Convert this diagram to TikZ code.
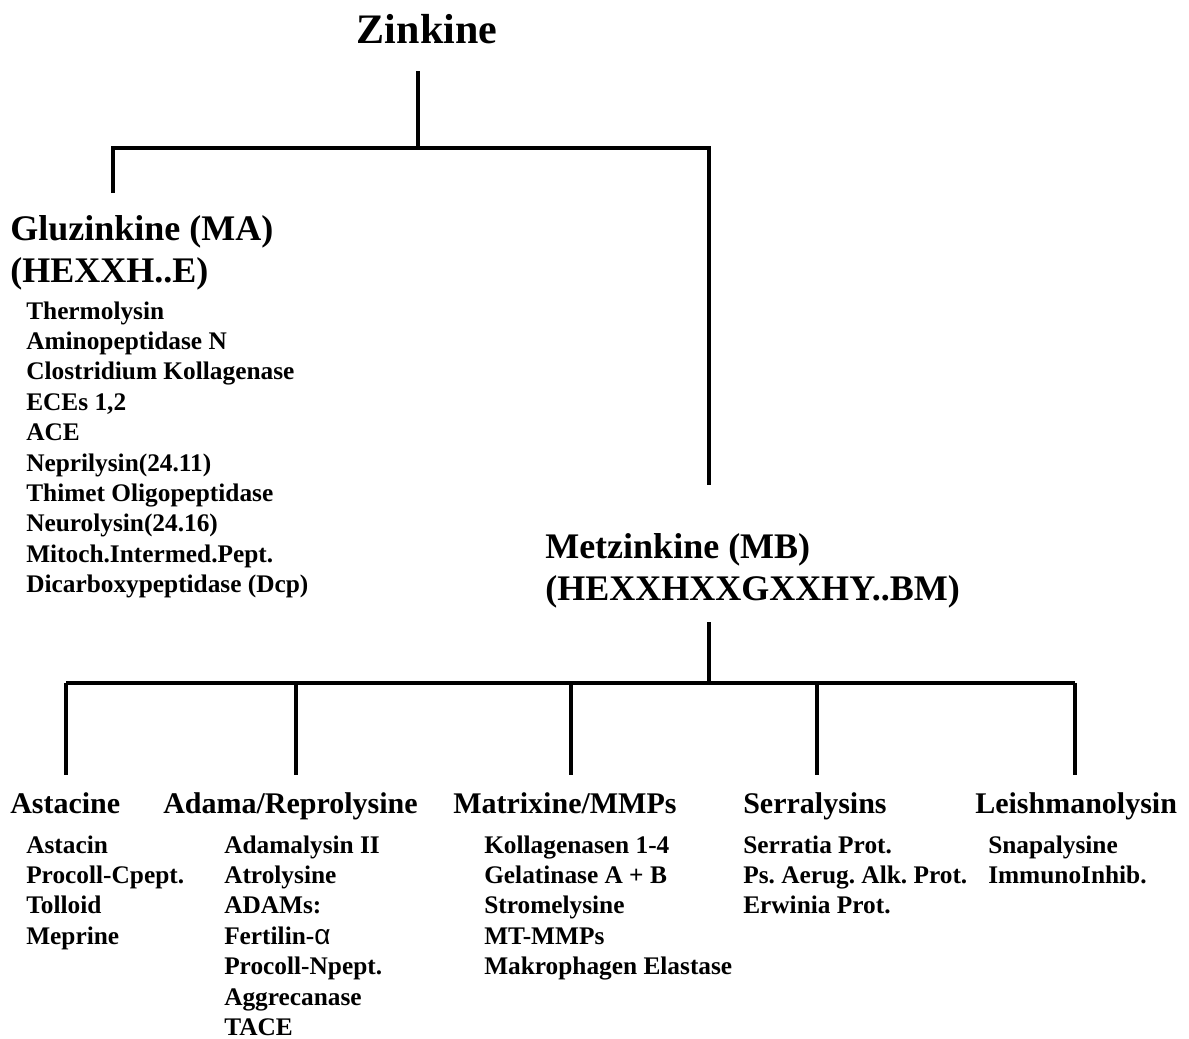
\documentclass[tikz,border=0pt]{standalone}
\usepackage{fontspec}
\setmainfont{Liberation Serif}
\newfontfamily\alphafont{Liberation Sans}
\frenchspacing
\begin{document}
\frenchspacing
\begin{tikzpicture}[x=0.75pt,y=-0.75pt,
  tree/.style={line width=2.6pt},
  title/.style={font=\bfseries\fontsize{31.5}{36}\selectfont, inner sep=0pt, anchor=base},
  family/.style={font=\bfseries\fontsize{27}{32}\selectfont, inner sep=0pt, anchor=base west},
  group/.style={font=\bfseries\fontsize{22.5}{27}\selectfont, inner sep=0pt, anchor=base west},
  item/.style={font=\bfseries\fontsize{19}{23}\selectfont, inner sep=0pt, anchor=base west}]
\fill[white] (0,0) rectangle (1189,1039);
\useasboundingbox (0,0) rectangle (1189,1039);

% titles
\node[title] (zink) at (427,43) {Zinkine};
\node[family] (glu1) at (10,240) {Gluzinkine (MA)};
\node[family] (glu2) at (10,282) {(HEXXH..E)};
\node[family] (met1) at (545,558) {Metzinkine (MB)};
\node[family] (met2) at (545,600) {(HEXXHXXGXXHY..BM)};

% groups
\node[group] (ast) at (10,813) {Astacine};
\node[group] (ada) at (163,813) {Adama/Reprolysine};
\node[group] (mat) at (453,813) {Matrixine/MMPs};
\node[group] (ser) at (743,813) {Serralysins};
\node[group] (lei) at (975,813) {Leishmanolysin};

% lists
\foreach \t [count=\i] in {Thermolysin, Aminopeptidase N, Clostridium Kollagenase, {ECEs 1,2}, ACE,
  Neprilysin(24.11), Thimet Oligopeptidase, Neurolysin(24.16), Mitoch.Intermed.Pept., Dicarboxypeptidase (Dcp)}
  \node[item] (g\i) at (26,{319+30.4*(\i-1)}) {\t};
\foreach \t [count=\i] in {Astacin, Procoll-Cpept., Tolloid, Meprine}
  \node[item] (as\i) at (26,{853+30.4*(\i-1)}) {\t};
\foreach \t [count=\i] in {Adamalysin II, Atrolysine, ADAMs:, Fertilin-{\alphafont\mdseries\fontsize{21}{23}\selectfont α}, Procoll-Npept., Aggrecanase, TACE}
  \node[item] (ad\i) at (224,{853+30.4*(\i-1)}) {\t};
\foreach \t [count=\i] in {Kollagenasen 1-4, Gelatinase A + B, Stromelysine, MT-MMPs, Makrophagen Elastase}
  \node[item] (ma\i) at (484,{853+30.4*(\i-1)}) {\t};
\foreach \t [count=\i] in {Serratia Prot., Ps. Aerug. Alk. Prot., Erwinia Prot.}
  \node[item] (se\i) at (743,{853+30.4*(\i-1)}) {\t};
\foreach \t [count=\i] in {Snapalysine, ImmunoInhib.}
  \node[item] (le\i) at (988,{853+30.4*(\i-1)}) {\t};

% connector points
\coordinate (zt) at (418,71);
\coordinate (zb) at (418,148);
\coordinate (gl) at (113,148);
\coordinate (gb) at (113,193);
\coordinate (mr) at (709,148);
\coordinate (mb) at (709,485);
\coordinate (mt) at (709,622);
\coordinate (mj) at (709,683);
\coordinate (bl) at (66,683);
\coordinate (br) at (1075,683);
\foreach \n/\x in {d1/66, d2/296, d3/571, d4/817, d5/1075} {
  \coordinate (\n t) at (\x,683);
  \coordinate (\n b) at (\x,775);
}

\draw[tree] (zt) -- (zb);
\draw[tree] (gb) -- (gl) -- (mr) -- (mb);
\draw[tree] (mt) -- (mj);
\draw[tree] (bl) -- (br);
\foreach \n in {d1,d2,d3,d4,d5} \draw[tree] (\n t) -- (\n b);
\end{tikzpicture}
\end{document}
